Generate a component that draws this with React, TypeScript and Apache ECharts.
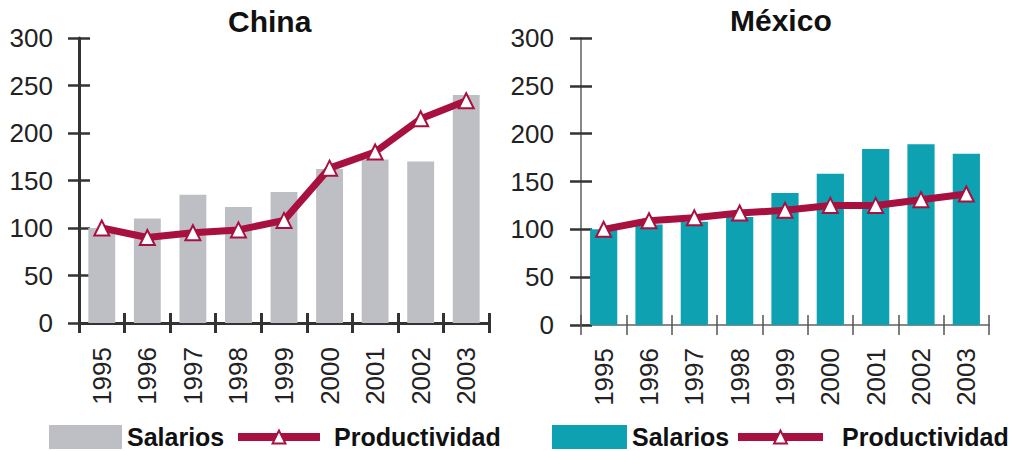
import React, { useEffect, useRef } from "react";
import * as echarts from "echarts";

const years = ["1995", "1996", "1997", "1998", "1999", "2000", "2001", "2002", "2003"];
const chinaSalarios = [100, 110, 135, 122, 138, 162, 172, 170, 240];
const chinaProductividad = [100, 90, 95, 98, 108, 163, 180, 215, 234];
const mexicoSalarios = [100, 105, 108, 113, 138, 158, 184, 189, 179];
const mexicoProductividad = [100, 109, 112, 117, 120, 125, 125, 131, 137];
const yTicks = { min: 0, max: 300, interval: 50 };

const FONT = "'Liberation Sans', Arial, sans-serif";
const RED = "#A8113F";
const GREY = "#BEBFC4";
const TEAL = "#0EA1B2";

export default function App() {
  const ref = useRef<HTMLDivElement>(null);
  useEffect(() => {
    if (!ref.current) return;
    const chart = echarts.init(ref.current, undefined, { renderer: "svg" });

    const mkY = (grid: number, lineColor: string, lineW: number, tickColor: string, margin: number) => [
      {
        type: "value", gridIndex: grid, position: "left", ...yTicks,
        axisLine: { show: true, lineStyle: { color: lineColor, width: lineW } },
        axisTick: { show: true, length: 11, lineStyle: { color: tickColor, width: 2.5 } },
        axisLabel: { margin, color: "#222", fontSize: 26, fontFamily: FONT },
        splitLine: { show: false },
      },
      {
        type: "value", gridIndex: grid, position: "left", ...yTicks,
        axisLine: { show: false },
        axisTick: { show: true, inside: true, length: 11, lineStyle: { color: tickColor, width: 2.5 } },
        axisLabel: { show: false },
        splitLine: { show: false },
      },
    ];
    const mkX = (grid: number, lineColor: string, lineW: number, tickColor: string, tickW: number, margin: number) => [
      {
        type: "category", gridIndex: grid, position: "bottom", data: years,
        axisLine: { show: true, lineStyle: { color: lineColor, width: lineW } },
        axisTick: { show: true, length: 10, lineStyle: { color: tickColor, width: tickW } },
        axisLabel: { rotate: 90, margin, color: "#222", fontSize: 26, fontFamily: FONT, interval: 0 },
      },
      {
        type: "category", gridIndex: grid, position: "bottom", data: years,
        axisLine: { show: false },
        axisTick: { show: true, inside: true, length: 10, lineStyle: { color: tickColor, width: tickW } },
        axisLabel: { show: false },
      },
    ];

    const legendText = { color: "#111", fontSize: 25, lineHeight: 26, fontWeight: "bold", fontFamily: FONT };
    const lineLegend = (name: string, left: number, itemWidth: number, padLeft: number) => ({
      data: [name], left, top: 424, padding: 0, itemWidth, itemHeight: 16, selectedMode: false,
      formatter: () => "Productividad",
      textStyle: { ...legendText, padding: [0, 0, 0, padLeft] },
      lineStyle: { width: 8, color: RED },
      itemStyle: { color: "#fff", borderColor: RED, borderWidth: 2 },
    });
    const barLegend = (name: string, left: number, itemWidth: number) => ({
      data: [name], left, top: 424, padding: 0, itemWidth, itemHeight: 24, selectedMode: false,
      icon: "rect",
      formatter: () => "Salarios",
      textStyle: { ...legendText },
    });

    const lineSeries = (name: string, idx: number, data: number[]) => ({
      name, type: "line", xAxisIndex: idx, yAxisIndex: idx, data,
      symbol: "triangle", symbolSize: 15,
      lineStyle: { color: RED, width: 7 },
      itemStyle: { color: "#fff", borderColor: RED, borderWidth: 2 },
      z: 5,
    });

    chart.setOption({
      animation: false,
      backgroundColor: "#fff",
      title: [
        { text: "China", left: 228, top: 6, padding: 0, textStyle: { fontSize: 30, fontWeight: "bold", color: "#111", fontFamily: FONT } },
        { text: "México", left: 730, top: 5, padding: 0, textStyle: { fontSize: 30, fontWeight: "bold", color: "#111", fontFamily: FONT } },
      ],
      legend: [
        barLegend("Salarios China", 49, 73),
        lineLegend("Productividad China", 234, 82, 9),
        barLegend("Salarios México", 552, 75),
        lineLegend("Productividad México", 734, 85, 14),
      ],
      grid: [
        { left: 79, top: 38, width: 410, height: 285 },
        { left: 581, top: 38, width: 408, height: 287 },
      ],
      xAxis: [
        ...mkX(0, "#333", 3, "#333", 3, 24),
        ...mkX(1, "#888", 2, "#555", 1.5, 23),
      ],
      yAxis: [
        ...mkY(0, "#333", 3, "#333", 26),
        ...mkY(1, "#888", 2, "#333", 27),
      ],
      series: [
        { name: "Salarios China", type: "bar", xAxisIndex: 0, yAxisIndex: 0, data: chinaSalarios, barWidth: "59%", itemStyle: { color: GREY } },
        lineSeries("Productividad China", 0, chinaProductividad),
        { name: "Salarios México", type: "bar", xAxisIndex: 2, yAxisIndex: 2, data: mexicoSalarios, barWidth: "60%", itemStyle: { color: TEAL } },
        lineSeries("Productividad México", 2, mexicoProductividad),
      ],
    });
    return () => chart.dispose();
  }, []);
  return (
    <div
      ref={ref}
      style={{ position: "absolute", left: 0, top: 0, width: 1015, height: 451, background: "#fff" }}
    />
  );
}
